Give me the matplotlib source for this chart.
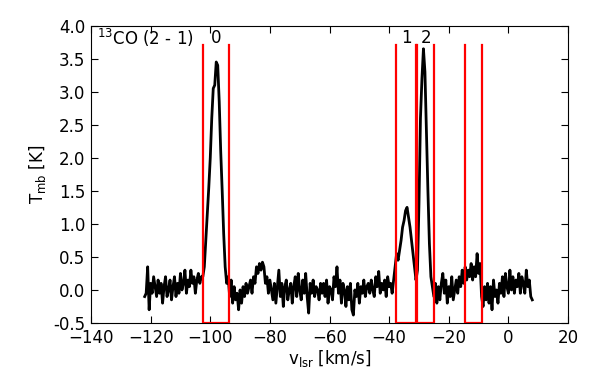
import numpy as np
import matplotlib
matplotlib.use('Agg')
import matplotlib.pyplot as plt

# 13CO (2-1) spectrum, channels every 0.5 km/s from -122 to 8 km/s
tmb = [
    -0.10, -0.05, 0.35, -0.30, 0.10, -0.05, 0.20, 0.05, -0.10, 0.15,   # -122
    -0.05, 0.10, -0.20, 0.05, 0.20, -0.10, 0.00, 0.15, -0.15, 0.05,    # -117
    0.20, -0.10, 0.10, -0.05, 0.25, 0.00, 0.10, 0.30, -0.05, 0.15,     # -112
    0.05, 0.30, 0.10, 0.20, -0.05, 0.15, 0.25, 0.10, 0.20, 0.20,       # -107
    0.35, 0.75, 1.15, 1.55, 2.00, 2.60, 3.05, 3.10, 3.45, 3.40,        # -102
    2.85, 2.10, 1.50, 0.85, 0.35, 0.10, 0.20, -0.10, 0.15, -0.20,      # -97
    0.05, -0.15, -0.05, -0.30, 0.00, -0.20, 0.05, -0.10, 0.10, -0.05,  # -92
    0.05, 0.15, -0.05, 0.20, 0.10, 0.35, 0.25, 0.40, 0.30, 0.42,       # -87
    0.35, 0.10, 0.20, -0.05, 0.15, 0.00, -0.15, 0.10, -0.20, 0.05,     # -82
    0.30, -0.10, 0.10, -0.25, 0.05, 0.15, -0.15, 0.00, 0.10, -0.20,    # -77
    0.05, 0.20, -0.10, 0.25, 0.00, -0.15, 0.15, -0.05, 0.25, -0.10,    # -72
    -0.35, 0.10, -0.05, 0.15, -0.10, 0.05, 0.00, -0.15, 0.10, -0.05,   # -67
    0.10, -0.10, 0.15, -0.20, 0.05, 0.00, -0.15, 0.20, 0.05, 0.35,     # -62
    -0.05, 0.15, -0.20, 0.10, 0.00, -0.25, 0.05, -0.15, 0.10, -0.30,   # -57
    -0.38, 0.00, -0.10, 0.10, -0.20, 0.05, -0.05, 0.15, -0.10, 0.05,   # -52
    0.10, -0.05, 0.15, 0.00, -0.10, 0.20, 0.05, 0.28, -0.05, 0.10,     # -47
    0.00, 0.15, -0.10, 0.20, 0.05, 0.10, -0.05, 0.15, 0.35, 0.55,      # -42
    0.45, 0.60, 0.75, 0.95, 1.05, 1.20, 1.25, 1.10, 0.95, 0.75,        # -37
    0.55, 0.35, 0.15, 0.30, 1.30, 2.60, 3.20, 3.65, 3.30, 2.40,        # -32
    1.50, 0.70, 0.20, 0.05, -0.10, 0.10, -0.20, 0.05, -0.15, 0.10,     # -27
    0.25, -0.05, 0.15, -0.20, 0.05, -0.10, 0.20, -0.15, 0.00, 0.15,    # -22
    -0.05, 0.20, 0.05, 0.30, 0.10, 0.35, 0.15, 0.30, 0.20, 0.40,       # -17
    0.15, 0.35, 0.20, 0.55, 0.25, 0.40, -0.10, -0.25, 0.05, -0.15,     # -12
    0.10, -0.20, 0.05, -0.30, 0.15, -0.10, 0.00, -0.20, 0.10, -0.05,   # -7
    0.20, -0.10, 0.25, 0.05, -0.05, 0.30, 0.00, 0.20, -0.05, 0.15,     # -2
    0.05, 0.25, -0.05, 0.20, 0.10, -0.05, 0.30, 0.05, 0.15, -0.10,     # 3
    -0.15,                                                             # 8
]
v = np.linspace(-122, 8, len(tmb))

# integration windows (km/s)
win_lo = [-102.5, -37.8, -30.5, -14.5]
win_hi = [-93.7, -31.0, -25.0, -8.9]
win_top = 3.7

comp_labels = ['0', '1', '2']
comp_v = [-98.0, -34.3, -27.6]

fig = plt.figure(figsize=(5.98, 3.74), dpi=100)
ax = fig.add_axes([0.1522, 0.1364, 0.7977, 0.795])

ax.plot(v, tmb, color='k', lw=2, zorder=2)
for a, b in zip(win_lo, win_hi):
    ax.plot([a, a, b, b], [win_top, -0.5, -0.5, win_top], color='red', lw=1.6,
            zorder=3)

for lab, x in zip(comp_labels, comp_v):
    ax.text(x, 3.74, lab, ha='center', va='baseline', fontsize=12)
ax.text(0.012, 0.935, r'$^{13}$CO (2 - 1)', transform=ax.transAxes,
        ha='left', va='baseline', fontsize=12)

ax.set_xlim(-140, 20)
ax.set_ylim(-0.5, 4.0)
ax.set_xticks(np.arange(-140, 21, 20))
ax.set_yticks(np.arange(-0.5, 4.01, 0.5))
ax.yaxis.set_major_formatter(matplotlib.ticker.FormatStrFormatter('%.1f'))
ax.tick_params(direction='in', top=True, right=True, labelsize=12, length=5, pad=4)
ax.set_xlabel(r'v$_{\rm lsr}$ [km/s]', fontsize=12, labelpad=1)
ax.set_ylabel(r'T$_{\rm mb}$ [K]', fontsize=12)

plt.savefig('out.png', dpi=100)
